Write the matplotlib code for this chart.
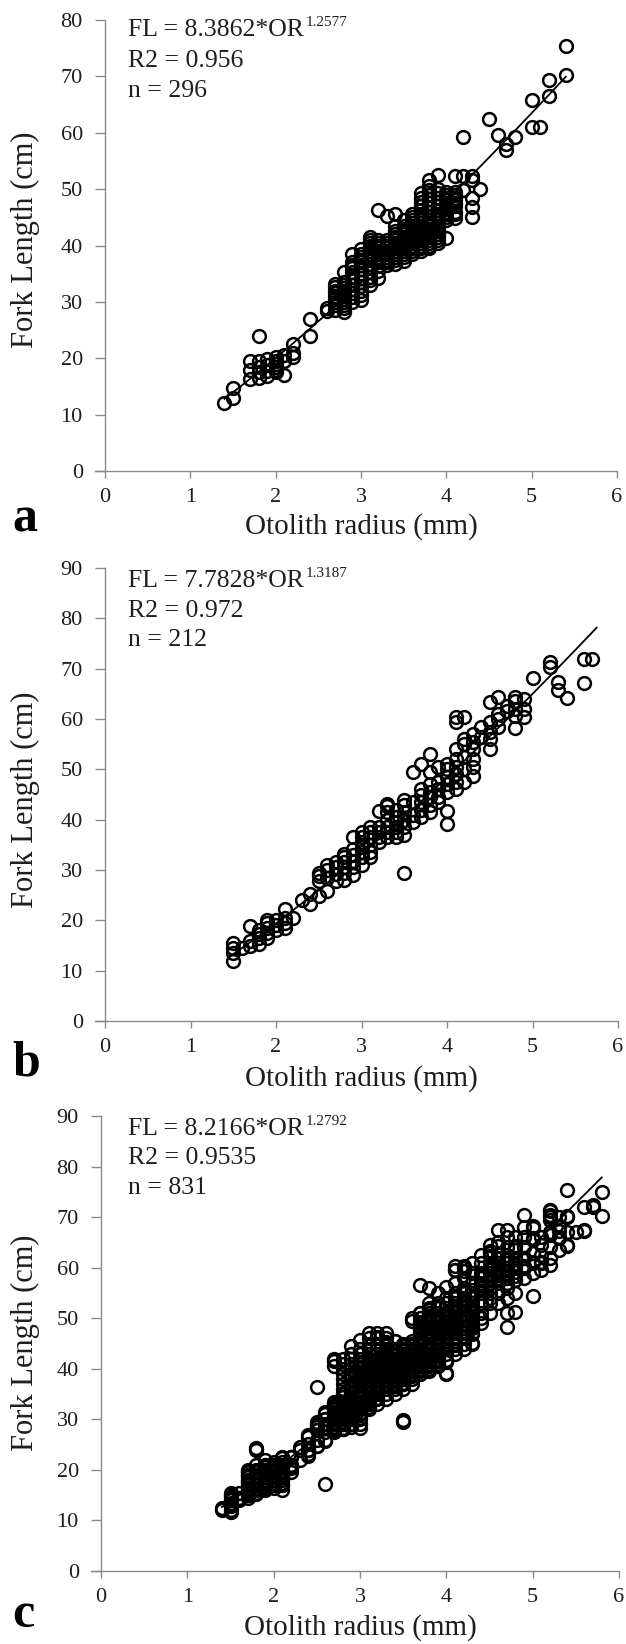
import matplotlib
matplotlib.use("Agg")
import matplotlib.pyplot as plt
import numpy as np

# ---------------------------------------------------------------------------
# Fork length (cm) against otolith radius (mm); radii are measured to 0.1 mm,
# so each sample is stored as a radius value with the fork lengths seen there.
# ---------------------------------------------------------------------------

# (a) sample set 1
a_radius = [1.4, 1.5, 1.7, 1.8, 1.9, 2.0, 2.1, 2.2, 2.4, 2.6,
            2.7, 2.8, 2.9, 3.0, 3.1, 3.2, 3.3, 3.4, 3.5, 3.6,
            3.7, 3.8, 3.9, 4.0, 4.1, 4.2, 4.3, 4.4, 4.5, 4.6,
            4.7, 4.8, 5.0, 5.1, 5.2, 5.4]
a_length = [
    [12.0],
    [12.9, 14.8],
    [16.4, 17.9, 19.5],
    [16.5, 17.5, 18.5, 19.5, 24.0],
    [16.8, 17.8, 18.8, 19.8],
    [17.5, 18.0, 18.5, 19.0, 19.5, 20.3],
    [17.0, 19.5, 20.5],
    [20.3, 21.0, 22.6],
    [23.9, 27.0],
    [28.3, 29.0],
    [28.5, 29.5, 30.0, 30.5, 31.0, 31.5, 32.0, 32.7, 33.2],
    [28.2, 29.0, 29.5, 30.0, 30.5, 31.0, 31.5, 32.0, 32.5, 33.0, 33.5, 35.3],
    [30.0, 30.8, 31.5, 32.3, 33.0, 33.8, 34.5, 35.3, 36.0, 36.5, 37.0, 38.5],
    [30.3, 31.2, 32.0, 32.8, 33.5, 34.3, 35.0, 35.8, 36.5, 37.0, 37.5, 38.0, 38.5, 39.3],
    [33.0, 33.8, 34.5, 35.3, 36.0, 36.8, 37.5, 38.0, 38.5, 39.0, 39.5, 40.0, 40.5, 41.0, 41.5],
    [34.3, 35.5, 36.3, 37.0, 37.5, 38.0, 38.5, 39.0, 39.5, 40.0, 40.5, 41.0, 46.3],
    [36.5, 37.0, 37.5, 38.0, 38.5, 39.0, 39.5, 40.0, 40.5, 41.0, 45.3],
    [36.8, 37.5, 38.0, 38.5, 39.0, 39.5, 40.0, 40.5, 41.0, 41.5, 42.0, 42.5, 43.5, 45.5],
    [37.2, 38.0, 38.5, 39.0, 39.5, 40.0, 40.5, 41.0, 41.5, 42.0, 42.5, 43.0, 43.5, 44.5],
    [38.5, 39.0, 39.5, 40.0, 40.5, 41.0, 41.5, 42.0, 42.5, 43.0, 43.5, 44.0, 44.5, 45.0, 45.5],
    [39.0, 39.5, 40.0, 40.5, 41.0, 41.5, 42.0, 42.5, 43.0, 43.5, 44.0, 44.5, 45.0, 45.5,
     46.3, 47.0, 47.8, 48.5, 49.3],
    [39.5, 40.0, 40.5, 41.0, 41.5, 42.0, 42.5, 43.0, 43.5, 44.0, 44.5, 45.0, 46.0, 46.8,
     47.5, 48.3, 49.0, 49.8, 50.5, 51.7],
    [40.5, 41.0, 41.5, 42.0, 42.5, 43.0, 43.5, 44.0, 44.5, 45.0, 45.5, 46.3, 47.0, 47.8,
     48.5, 49.3, 50.0, 52.5],
    [41.3, 44.5, 45.0, 45.5, 46.0, 46.5, 47.0, 47.5, 48.0, 48.5, 49.0, 49.5],
    [44.8, 45.5, 46.0, 47.0, 47.5, 48.0, 48.5, 49.0, 49.5, 52.3],
    [49.8, 52.3, 59.3],
    [45.1, 46.9, 48.4, 51.7, 52.3],
    [50.1],
    [62.4],
    [59.6],
    [56.9, 58.0],
    [59.2],
    [61.1, 65.8],
    [61.1],
    [66.5, 69.4],
    [70.2, 75.4],
]

# (b) sample set 2
b_radius = [1.5, 1.6, 1.7, 1.8, 1.9, 2.0, 2.1, 2.2, 2.3, 2.4,
            2.5, 2.6, 2.7, 2.8, 2.9, 3.0, 3.1, 3.2, 3.3, 3.4,
            3.5, 3.6, 3.7, 3.8, 3.9, 4.0, 4.1, 4.2, 4.3, 4.4,
            4.5, 4.6, 4.7, 4.8, 4.9, 5.0, 5.2, 5.3, 5.4, 5.6, 5.7]
b_length = [
    [12.0, 13.5, 14.5, 15.5],
    [14.5],
    [15.0, 15.8, 18.8],
    [15.3, 16.5, 17.2, 18.0],
    [16.5, 17.5, 18.5, 19.5, 20.0],
    [18.0, 19.0, 20.0],
    [18.5, 19.5, 20.5, 22.3],
    [20.5],
    [24.0],
    [23.2, 25.2],
    [24.8, 27.8, 28.8, 29.5],
    [25.8, 28.5, 30.0, 31.0],
    [27.8, 29.2, 30.5, 31.5],
    [28.0, 29.5, 30.5, 31.5, 32.5, 33.2],
    [29.0, 30.5, 31.8, 33.0, 34.2, 36.5],
    [31.0, 32.5, 33.5, 34.5, 35.5, 36.5, 37.5],
    [32.5, 33.5, 35.0, 36.5, 37.5, 38.5],
    [35.5, 36.5, 37.5, 38.5, 41.8],
    [36.5, 37.5, 38.5, 40.0, 41.5, 42.8, 43.2],
    [36.5, 37.5, 38.5, 39.5, 40.5, 42.0],
    [29.5, 37.0, 38.5, 40.0, 41.5, 43.0, 44.0],
    [39.5, 41.0, 43.5, 49.5],
    [40.5, 42.0, 43.5, 45.0, 46.0, 51.0],
    [41.5, 43.0, 44.5, 45.5, 47.0, 49.5, 53.0],
    [43.5, 44.5, 46.0, 47.5, 50.5],
    [39.2, 41.7, 45.5, 47.0, 48.5, 50.0, 51.0],
    [46.0, 47.5, 49.0, 50.5, 52.0, 54.0, 59.5, 60.3],
    [47.5, 50.0, 52.5, 55.0, 56.0, 60.3],
    [48.7, 50.5, 52.0, 54.0, 55.5, 57.0],
    [56.5, 58.5],
    [54.0, 56.0, 57.5, 59.5, 63.3],
    [58.5, 60.0, 61.0, 64.3],
    [61.5, 62.5],
    [58.3, 60.5, 62.0, 63.5, 64.3],
    [60.3, 62.0, 64.0],
    [68.2],
    [70.4, 71.3],
    [65.8, 67.3],
    [64.2],
    [67.2, 72.0],
    [72.0],
]

# (c) pooled samples: sets 1 and 2 plus the remaining fish
c_other_radius = [1.4, 1.5, 1.6, 1.7, 1.8, 1.9, 2.0, 2.1, 2.2, 2.3,
                  2.4, 2.5, 2.6, 2.7, 2.8, 2.9, 3.0, 3.1, 3.2, 3.3,
                  3.4, 3.5, 3.6, 3.7, 3.8, 3.9, 4.0, 4.1, 4.2, 4.3,
                  4.4, 4.5, 4.6, 4.7, 4.8, 4.9, 5.0, 5.1, 5.2, 5.3,
                  5.4, 5.5, 5.6, 5.7, 5.8]
c_other_length = [
    [12.4],
    [11.7, 13.0, 14.0, 15.0],
    [14.0, 15.5],
    [14.5, 15.0, 15.5, 16.0, 16.5, 17.0, 17.5, 18.0, 18.5, 19.0, 19.5, 20.0],
    [15.5, 16.0, 16.5, 17.0, 17.5, 18.0, 18.5, 19.0, 19.5, 20.0, 21.0, 24.3],
    [16.0, 16.5, 17.0, 17.5, 18.0, 18.5, 19.0, 19.5, 20.5, 21.0, 22.0],
    [16.5, 17.0, 17.5, 18.0, 18.5, 19.0, 19.5, 20.0, 20.5, 21.0, 21.5],
    [16.0, 17.0, 17.5, 18.0, 18.5, 19.0, 19.5, 20.0, 20.5, 21.0, 21.5, 22.5],
    [19.5, 21.0, 22.5],
    [22.0, 24.5],
    [22.8, 24.0, 26.5],
    [24.8, 26.0, 28.5, 29.0, 36.3],
    [17.3, 26.0, 27.5, 30.0, 31.5],
    [27.5, 28.0, 28.5, 29.0, 29.5, 30.0, 30.5, 31.0, 31.5, 32.0, 32.5, 33.0, 33.5,
     40.5, 41.5, 42.0],
    [28.0, 29.0, 30.0, 30.5, 31.5, 32.0, 33.0, 33.5, 34.5, 35.0, 36.0, 37.0, 38.0,
     39.0, 40.0, 41.0, 42.0],
    [28.5, 29.0, 30.0, 31.0, 32.0, 33.0, 34.0, 35.0, 36.0, 37.0, 38.0, 39.0, 40.0,
     41.0, 42.0, 43.0, 44.5],
    [28.2, 29.0, 30.0, 31.0, 32.0, 33.0, 34.0, 35.0, 36.0, 37.0, 38.0, 39.0, 40.0,
     41.0, 42.0, 43.0, 44.0, 45.7],
    [32.0, 33.0, 34.0, 35.0, 36.0, 37.0, 38.0, 39.0, 40.0, 41.0, 42.0, 43.0, 44.0,
     45.0, 46.0, 47.0],
    [33.0, 34.0, 35.0, 36.0, 37.0, 38.0, 39.0, 40.0, 41.0, 42.0, 43.0, 44.0, 45.0,
     46.0, 47.0],
    [34.0, 35.0, 36.0, 37.0, 38.0, 39.0, 40.0, 41.0, 42.0, 43.0, 44.0, 45.0, 46.0, 47.0],
    [35.0, 36.0, 37.0, 38.0, 39.0, 40.0, 41.0, 42.0, 43.0, 44.0, 45.5],
    [29.9, 36.0, 37.0, 38.0, 39.0, 40.0, 41.0, 42.0, 43.0, 44.0, 45.0],
    [37.0, 38.0, 39.0, 40.0, 41.0, 42.0, 43.0, 44.0, 45.0, 50.0],
    [39.0, 40.0, 41.0, 42.0, 43.0, 44.0, 45.0, 46.0, 47.0, 48.0, 49.0, 50.0, 51.0, 56.5],
    [40.0, 41.0, 42.0, 43.0, 44.0, 45.0, 46.0, 47.0, 48.0, 49.0, 50.0, 51.0, 52.0, 56.0],
    [41.0, 42.0, 43.0, 44.0, 45.0, 46.0, 47.0, 48.0, 49.0, 50.0, 51.0, 52.0, 53.0, 55.0],
    [39.0, 41.5, 43.0, 44.0, 45.0, 46.0, 47.0, 48.0, 49.0, 50.0, 51.0, 52.0, 53.0,
     54.0, 56.2],
    [43.0, 44.0, 45.0, 46.0, 47.0, 48.0, 49.0, 50.0, 51.0, 52.0, 53.0, 54.0, 55.0,
     57.0, 59.5],
    [44.0, 45.0, 46.0, 47.0, 48.0, 49.0, 50.0, 51.0, 52.0, 53.0, 54.0, 55.0, 56.0,
     58.0, 60.0],
    [45.0, 47.0, 48.0, 49.0, 50.0, 51.0, 52.0, 53.0, 54.0, 55.0, 57.0, 59.0, 61.0],
    [49.0, 51.0, 53.0, 55.0, 56.0, 57.0, 58.0, 59.0, 61.0, 62.5],
    [51.0, 53.0, 55.0, 56.0, 57.0, 58.0, 59.0, 60.0, 61.0, 63.0, 64.5],
    [53.0, 55.0, 57.0, 58.0, 59.0, 60.0, 61.0, 62.0, 63.0, 65.0, 67.4],
    [48.3, 51.0, 54.0, 56.0, 58.0, 59.0, 60.0, 61.0, 62.0, 64.0, 66.1, 67.4],
    [51.3, 55.0, 57.5, 60.0, 62.0, 64.0, 66.0],
    [58.0, 60.0, 62.0, 64.0, 66.0, 68.0, 70.4],
    [54.3, 59.0, 61.0, 63.0, 65.5, 67.8],
    [59.5, 61.0, 62.5, 64.5, 66.0],
    [60.5, 62.0, 64.0, 67.0, 70.1, 71.4],
    [63.5, 66.0, 68.0, 70.1],
    [64.5, 67.0, 70.1],
    [67.1],
    [67.4],
    [72.4],
    [70.2, 75.0],
]

# power-law fits FL = k * OR^p, drawn over the radius range of each panel
fit_k = [8.3862, 7.7828, 8.2166]
fit_p = [1.2577, 1.3187, 1.2792]
fit_from = [1.4, 1.5, 1.4]
fit_to = [5.4, 5.75, 5.8]
fit_r2 = ["0.956", "0.972", "0.9535"]
sample_n = [296, 212, 831]
panel_letters = ["a", "b", "c"]
y_max = [80, 90, 90]
x_ticks = [0, 1, 2, 3, 4, 5, 6]


def expand(radius, lengths):
    xs, ys = [], []
    for r, group in zip(radius, lengths, strict=True):
        xs.extend([r] * len(group))
        ys.extend(group)
    return np.array(xs), np.array(ys)


set_a = expand(a_radius, a_length)
set_b = expand(b_radius, b_length)
set_o = expand(c_other_radius, c_other_length)
pooled = (np.concatenate([set_a[0], set_b[0], set_o[0]]),
          np.concatenate([set_a[1], set_b[1], set_o[1]]))
series = [set_a, set_b, pooled]

plt.rcParams["font.family"] = "serif"
plt.rcParams["font.serif"] = ["Liberation Serif", "DejaVu Serif"]
SERIF = ["Liberation Serif", "DejaVu Serif"]

W, H = 626, 1644
fig = plt.figure(figsize=(W / 100, H / 100), dpi=100)
fig.patch.set_facecolor("white")

# axes boxes in pixels: left, right, top, bottom
boxes = [(105, 617, 20, 471), (105, 618, 568, 1021), (101, 619, 1116, 1571)]
ylabel_centre = [240, 800, 1343]
xlabel_centre = [527, 1079, 1628]
letter_base = [531, 1076, 1627]
text_x = [0.045, 0.045, 0.052]
text_rows = [(0.9645, 0.896, 0.829), (0.958, 0.892, 0.828), (0.958, 0.894, 0.829)]

axis_grey = "#8a8a8a"
ink = "#1e1e1e"
ytick_len = 7  # points

for i in range(3):
    left, right, top, bottom = boxes[i]
    ax = fig.add_axes([left / W, 1 - bottom / H, (right - left) / W, (bottom - top) / H])
    x, y = series[i]

    ax.plot(x, y, "o", ls="none", mfc="none", mec="black", ms=9.2, mew=1.8, zorder=2)
    xf = np.linspace(fit_from[i], fit_to[i], 200)
    ax.plot(xf, fit_k[i] * xf ** fit_p[i], color="black", lw=1.3, zorder=3)

    ax.set_xlim(0, 6)
    ax.set_ylim(0, y_max[i])
    ax.set_xticks(x_ticks)
    ax.set_yticks(np.arange(0, y_max[i] + 1, 10))
    for s in ("top", "right"):
        ax.spines[s].set_visible(False)
    for s in ("left", "bottom"):
        ax.spines[s].set_color(axis_grey)
        ax.spines[s].set_linewidth(1.0)
    # the category axis runs on to meet the end of the zero tick on the value axis
    overhang = ytick_len * 100 / 72 / (right - left) * 6
    ax.spines["bottom"].set_bounds(-overhang, 6)
    ax.tick_params(axis="y", length=ytick_len, width=1.0, color=axis_grey, pad=9,
                   labelsize=16, labelcolor=ink)
    ax.tick_params(axis="x", length=5, width=1.0, color=axis_grey, pad=7,
                   labelsize=16, labelcolor=ink)
    for lab in ax.get_xticklabels() + ax.get_yticklabels():
        lab.set_family(SERIF)

    r1, r2, r3 = text_rows[i]
    main = ax.text(text_x[i], r1, "FL = %.4f*OR" % fit_k[i], transform=ax.transAxes,
                   family=SERIF, fontsize=18.5, color=ink, va="baseline", ha="left")
    ax.annotate("%.4f" % fit_p[i], xy=(1.0, 1.0), xycoords=main,
                xytext=(1, 2), textcoords="offset points", family=SERIF,
                fontsize=11, color=ink, va="top", ha="left")
    ax.text(text_x[i], r2, "R2 = " + fit_r2[i], transform=ax.transAxes,
            family=SERIF, fontsize=18.5, color=ink, va="baseline", ha="left")
    ax.text(text_x[i], r3, "n = %d" % sample_n[i], transform=ax.transAxes,
            family=SERIF, fontsize=18.5, color=ink, va="baseline", ha="left")

    fig.text(25 / W, 1 - ylabel_centre[i] / H, "Fork Length (cm)", rotation=90,
             ha="center", va="center", family=SERIF, fontsize=22, color=ink)
    fig.text(((left + right) / 2) / W, 1 - xlabel_centre[i] / H, "Otolith radius (mm)",
             ha="center", va="center", family=SERIF, fontsize=21, color=ink)
    fig.text(12 / W, 1 - letter_base[i] / H, panel_letters[i], ha="left",
             va="baseline", family=SERIF, fontsize=36, fontweight="bold", color="black")

fig.savefig("out.png", dpi=100, facecolor="white")
